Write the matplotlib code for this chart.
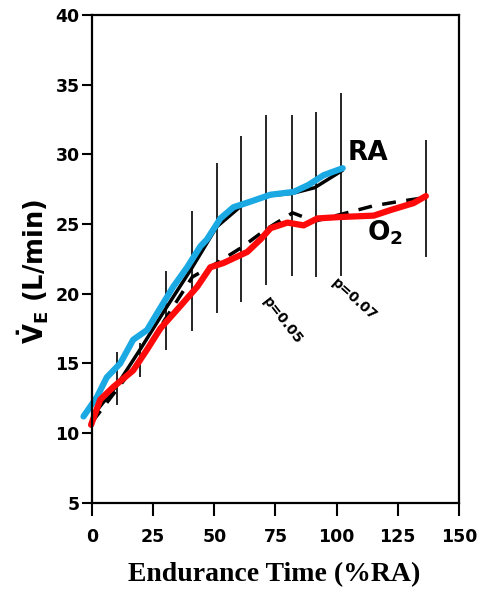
import matplotlib
matplotlib.use("Agg")
import matplotlib.pyplot as plt

# traced (coloured) mean curves
ra_x = [-3.5, 2, 6, 11.5, 16.8, 22.5, 26.6, 33.2, 38.9, 44.3, 47, 52.5, 57.8, 64.7, 73, 82.4, 88.5, 94.7, 102.5]
ra_y = [11.2, 12.6, 14.0, 15.0, 16.7, 17.4, 18.6, 20.5, 21.9, 23.4, 23.9, 25.4, 26.2, 26.6, 27.1, 27.3, 27.8, 28.5, 29.0]

o2_x = [-0.4, 3.3, 8.6, 16.8, 22.5, 27.9, 36, 43, 48.4, 53.7, 63.5, 68.9, 73, 79.9, 86.5, 92.2, 101.6, 115.2, 122.1, 131.5, 136.5]
o2_y = [10.6, 12.4, 13.3, 14.5, 16.0, 17.5, 19.1, 20.5, 21.9, 22.2, 23.0, 23.9, 24.7, 25.1, 24.9, 25.4, 25.5, 25.6, 26.0, 26.5, 27.0]

# original black curves underneath
ra_orig_x = [0, 10, 20, 30, 41, 51, 61, 71, 82, 91, 102]
ra_orig_y = [11.2, 13.4, 16.1, 18.9, 21.9, 24.8, 26.3, 27.0, 27.2, 27.6, 28.8]
o2_orig_x = [0, 10, 20, 30, 41, 51, 61, 71, 82, 91, 102, 115, 125, 136.5]
o2_orig_y = [10.8, 13.1, 15.4, 18.2, 21.2, 22.2, 23.3, 24.6, 25.8, 25.2, 25.7, 26.3, 26.6, 26.9]

# error bars (lower O2 SD to upper RA SD)
bar_x = [10.2, 19.7, 30.3, 41, 51.2, 61, 71.3, 81.6, 91.4, 102, 136.5]
bar_lo = [12.0, 14.0, 16.0, 17.3, 18.6, 19.4, 20.6, 21.3, 21.2, 21.3, 22.6]
bar_hi = [15.8, 16.5, 21.6, 25.9, 29.4, 31.3, 32.8, 32.8, 33.0, 34.4, 31.0]

fig = plt.figure(figsize=(4.95, 5.91), dpi=100)
ax = fig.add_axes([0.186, 0.149, 0.741, 0.826])

ax.vlines(bar_x, bar_lo, bar_hi, color='black', linewidth=1.2)
ax.plot(ra_orig_x, ra_orig_y, color='black', linewidth=2.5)
ax.plot(o2_orig_x, o2_orig_y, color='black', linewidth=2.5, linestyle=(0, (4, 3)))
ax.plot(ra_x, ra_y, color='#1aa9e3', linewidth=4.5, solid_capstyle='round',
        solid_joinstyle='round', clip_on=False)
ax.plot(o2_x, o2_y, color='#ff0a0a', linewidth=4.5, solid_capstyle='round',
        solid_joinstyle='round', clip_on=False)

ax.text(104.5, 30.1, 'RA', fontsize=19, fontweight='bold', va='center', ha='left')
ax.text(112.5, 24.4, 'O$_\\mathbf{2}$', fontsize=19, fontweight='bold', va='center', ha='left')
ax.text(77.9, 18.1, 'p=0.05', fontsize=10, fontweight='bold', rotation=-52,
        ha='center', va='center', rotation_mode='anchor')
ax.text(107.4, 19.6, 'p=0.07', fontsize=10, fontweight='bold', rotation=-42,
        ha='center', va='center', rotation_mode='anchor')

ax.set_xlim(0, 150)
ax.set_ylim(5, 40)
ax.set_xticks([0, 25, 50, 75, 100, 125, 150])
ax.set_yticks([5, 10, 15, 20, 25, 30, 35, 40])
ax.tick_params(axis='x', direction='out', length=9, width=1.5, labelsize=12.5, pad=9)
ax.tick_params(axis='y', direction='out', length=7, width=1.5, labelsize=12.5, pad=2)
for lab in ax.get_xticklabels() + ax.get_yticklabels():
    lab.set_fontweight('bold')
for sp in ax.spines.values():
    sp.set_linewidth(1.6)

fig.text(0.067, 0.541, '$\\mathbf{\\dot{V}_E}$ (L/min)', rotation=90, fontsize=18.5,
         fontweight='bold', ha='center', va='center')
fig.text(0.554, 0.027, 'Endurance Time (%RA)', fontsize=20, fontweight='bold',
         family='Liberation Serif', ha='center', va='center')

fig.savefig('out.png', dpi=100)
